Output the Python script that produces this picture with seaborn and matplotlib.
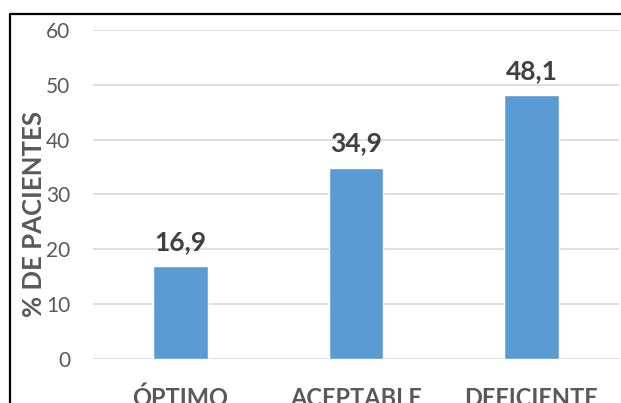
import matplotlib
matplotlib.use("Agg")
import matplotlib.pyplot as plt
from matplotlib.lines import Line2D
import seaborn as sns
import pandas as pd

categories = ["ÓPTIMO", "ACEPTABLE", "DEFICIENTE"]
values = [16.9, 34.9, 48.1]
value_labels = ["16,9", "34,9", "48,1"]
y_ticks = [0, 10, 20, 30, 40, 50, 60]

sns.set_theme(style="white")
plt.rcParams["font.family"] = ["Lato", "DejaVu Sans"]

df = pd.DataFrame({"nivel": categories, "pct": values})

fig = plt.figure(figsize=(6.21, 4.03), dpi=100)
ax = fig.add_axes([92.75 / 621, 44 / 403, 526.5 / 621, 329 / 403])

sns.barplot(data=df, x="nivel", y="pct", color="#5b9bd5", saturation=1,
            width=0.313, ax=ax, zorder=3)

ax.set_ylim(0, 60)
ax.set_xlim(-0.5, 2.5)
ax.set_yticks(y_ticks)
ax.set_yticklabels([str(t) for t in y_ticks], color="#595959", fontsize=15)
ax.tick_params(axis="y", length=0, pad=16)
ax.tick_params(axis="x", length=0, pad=20)
for lbl in ax.get_xticklabels():
    lbl.set_fontweight("bold")
    lbl.set_color("#595959")
    lbl.set_fontsize(17)
    lbl.set_verticalalignment("top")

ax.yaxis.grid(True, color="#d9d9d9", linewidth=1.2, zorder=0)
ax.set_axisbelow(True)
for s in ax.spines.values():
    s.set_visible(False)

ax.set_xlabel("")
ax.set_ylabel("")
fig.text(34 / 621, 1 - 214 / 403, "% DE PACIENTES", rotation=90, ha="center",
         va="center", fontsize=18.5, fontweight="bold", color="#595959")

for i, (v, t) in enumerate(zip(values, value_labels)):
    ax.annotate(t, (i, v), xytext=(0, 9), textcoords="offset points",
                ha="center", va="bottom", fontsize=19, fontweight="bold",
                color="#404040")

# outer frame: left and top edges
fig.add_artist(Line2D([9.5 / 621, 9.5 / 621], [0, 1 - 13.5 / 403],
                      transform=fig.transFigure, color="black", linewidth=1.6))
fig.add_artist(Line2D([9.5 / 621, 1], [1 - 13.5 / 403, 1 - 13.5 / 403],
                      transform=fig.transFigure, color="black", linewidth=1.6))

fig.savefig("out.png", dpi=100)
